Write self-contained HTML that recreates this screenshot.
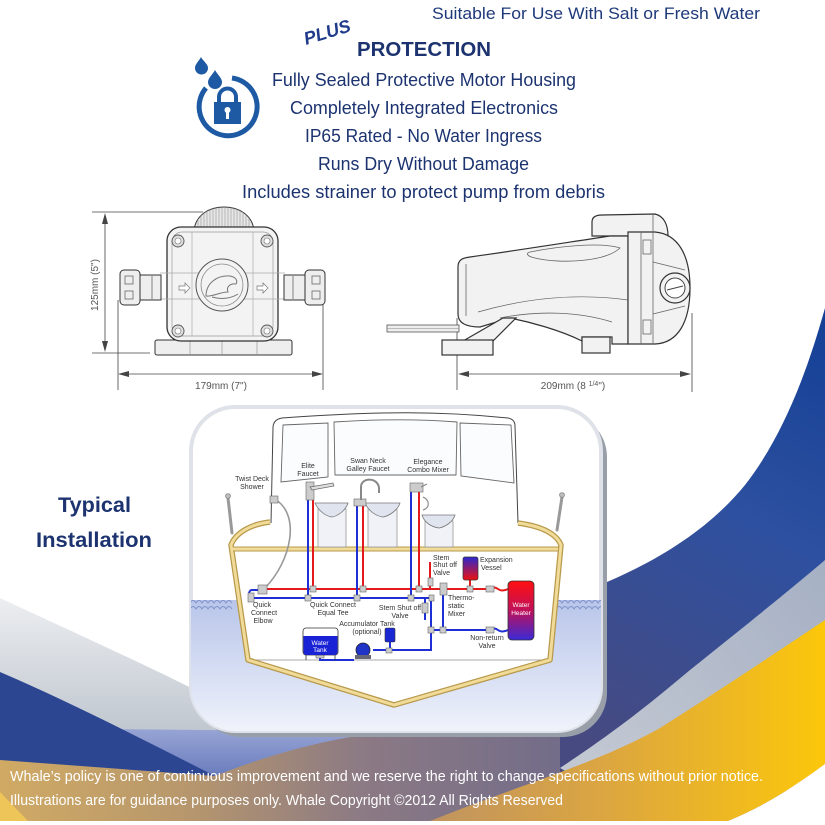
<!DOCTYPE html>
<html><head><meta charset="utf-8"><style>
html,body{margin:0;padding:0;background:#fff;}
svg{display:block;}
text{font-family:"Liberation Sans",sans-serif;}
</style></head><body>
<svg width="825" height="825" viewBox="0 0 825 825" xmlns="http://www.w3.org/2000/svg">
<defs>
 <linearGradient id="gGray" x1="0" y1="0" x2="0" y2="1">
  <stop offset="0" stop-color="#eceef1"/><stop offset="1" stop-color="#bcc3cc"/>
 </linearGradient>
 <linearGradient id="gPeri" x1="0" y1="0" x2="0" y2="1">
  <stop offset="0" stop-color="#98a5d5"/><stop offset="1" stop-color="#5c70b6"/>
 </linearGradient>
 <linearGradient id="gBlue" x1="825" y1="305" x2="590" y2="750" gradientUnits="userSpaceOnUse">
  <stop offset="0" stop-color="#123f95"/><stop offset="0.45" stop-color="#2e50a0"/><stop offset="1" stop-color="#474a80"/>
 </linearGradient>
 <linearGradient id="gSilver" x1="825" y1="560" x2="590" y2="760" gradientUnits="userSpaceOnUse">
  <stop offset="0" stop-color="#a6b0c4"/><stop offset="1" stop-color="#c2c8d2"/>
 </linearGradient>
 <linearGradient id="gYellow" x1="430" y1="0" x2="825" y2="0" gradientUnits="userSpaceOnUse">
  <stop offset="0" stop-color="#c09460"/><stop offset="0.45" stop-color="#dca640"/><stop offset="1" stop-color="#fcc70a"/>
 </linearGradient>
 <linearGradient id="gBottom" x1="0" y1="0" x2="600" y2="0" gradientUnits="userSpaceOnUse">
  <stop offset="0" stop-color="#d0aa64"/><stop offset="0.3" stop-color="#b8986c"/><stop offset="0.6" stop-color="#8c7a84"/><stop offset="1" stop-color="#6e6a8a"/>
 </linearGradient>
 <linearGradient id="gWater" x1="0" y1="0" x2="0" y2="1">
  <stop offset="0" stop-color="#b9c6ea"/><stop offset="0.6" stop-color="#dbe2f5"/><stop offset="1" stop-color="#f4f6fc"/>
 </linearGradient>
 <linearGradient id="gHeater" x1="0" y1="0" x2="0" y2="1">
  <stop offset="0" stop-color="#ff1010"/><stop offset="0.5" stop-color="#c0105a"/><stop offset="1" stop-color="#3a2ad6"/>
 </linearGradient>
 <linearGradient id="gVessel" x1="0" y1="0" x2="0" y2="1">
  <stop offset="0" stop-color="#2a28d0"/><stop offset="1" stop-color="#ee1010"/>
 </linearGradient>
 <clipPath id="boxClip"><rect x="191" y="407" width="410" height="324" rx="44"/></clipPath>
 <clipPath id="domeClip"><path d="M194,230 C196,215 209,207 224,207 C239,207 252,215 254,230 Z"/></clipPath>
</defs>

<rect width="825" height="825" fill="#fff"/>

<!-- background swooshes -->
<path d="M0,598 C60,626 140,662 195,690 L250,745 L0,745 Z" fill="url(#gGray)"/>
<path d="M0,728 L400,732 L400,790 L0,790 Z" fill="url(#gPeri)"/>
<path d="M0,672 C70,702 140,738 215,776 L0,776 Z" fill="#2d4692"/>
<path d="M0,760 L215,776 C260,758 320,740 372,734 L825,734 L825,821 L0,821 Z" fill="url(#gBottom)"/>
<path d="M0,792 L28,821 L0,821 Z" fill="#eec558"/>
<path d="M825,308 C805,380 780,440 745,485 C710,528 660,560 600,585 L560,734 L560,775 L825,775 Z" fill="url(#gBlue)"/>
<path d="M825,560 C790,590 740,630 690,670 C660,695 625,725 560,768 L600,790 L825,790 Z" fill="url(#gSilver)"/>
<path d="M825,620 C780,650 720,690 660,728 C600,762 520,785 430,821 L728,821 C760,808 790,790 825,764 Z" fill="url(#gYellow)"/>
<path d="M825,764 C790,790 760,808 728,821 L825,821 Z" fill="#fff"/>
<rect x="0" y="821" width="825" height="4" fill="#fff"/>

<!-- top text -->
<text x="432" y="19" font-size="17" fill="#1f3a7a" textLength="328" lengthAdjust="spacingAndGlyphs">Suitable For Use With Salt or Fresh Water</text>
<text x="0" y="0" font-size="18" font-weight="bold" font-style="italic" fill="#1f3a8a" transform="translate(306,45) rotate(-17)" textLength="48" lengthAdjust="spacingAndGlyphs">PLUS</text>
<text x="357" y="56" font-size="20" font-weight="bold" fill="#1c3370" textLength="134" lengthAdjust="spacingAndGlyphs">PROTECTION</text>
<g font-size="18" fill="#1c3370">
<text x="272" y="86" textLength="304" lengthAdjust="spacingAndGlyphs">Fully Sealed Protective Motor Housing</text>
<text x="290" y="114" textLength="268" lengthAdjust="spacingAndGlyphs">Completely Integrated Electronics</text>
<text x="305" y="142" textLength="237" lengthAdjust="spacingAndGlyphs">IP65 Rated - No Water Ingress</text>
<text x="318" y="170" textLength="211" lengthAdjust="spacingAndGlyphs">Runs Dry Without Damage</text>
<text x="242" y="198" textLength="363" lengthAdjust="spacingAndGlyphs">Includes strainer to protect pump from debris</text>
</g>

<!-- lock icon -->
<g fill="#1d5aa3">
 <path d="M201,57 C203,61 208,64 208,68 A6.5,6.5 0 0 1 195,68 C195,64 199,61 201,57 Z"/>
 <path d="M215,70 C217,74 222,78 222,82 A7,7 0 0 1 208,82 C208,78 213,74 215,70 Z"/>
 <path d="M214,124 h27 v-22 h-27 Z"/>
</g>
<path d="M232,78 A29,29 0 1 1 206,88" fill="none" stroke="#1d5aa3" stroke-width="5"/>
<path d="M219,103 v-6 a8.5,8.5 0 0 1 17,0 v6" fill="none" stroke="#1d5aa3" stroke-width="4"/>
<circle cx="227.5" cy="110" r="3" fill="#fff"/>
<rect x="226" y="111" width="3" height="8" fill="#fff"/>

<!-- front pump view -->
<g stroke="#444" stroke-width="0.8" fill="none">
 <line x1="92" y1="212" x2="203" y2="212"/>
 <line x1="92" y1="353" x2="150" y2="353"/>
 <line x1="105" y1="220" x2="105" y2="345"/>
 <line x1="118" y1="300" x2="118" y2="390"/>
 <line x1="323" y1="303" x2="323" y2="390"/>
 <line x1="125" y1="374" x2="316" y2="374"/>
</g>
<g fill="#444">
 <polygon points="105,213 102,224 108,224"/>
 <polygon points="105,352 102,341 108,341"/>
 <polygon points="118,374 129,371 129,377"/>
 <polygon points="323,374 312,371 312,377"/>
</g>
<text x="0" y="0" font-size="10" fill="#555" text-anchor="middle" transform="translate(98,285) rotate(-90)">125mm (5")</text>
<text x="221" y="389" font-size="10" fill="#555" text-anchor="middle">179mm (7")</text>

<path d="M194,230 C196,215 209,207 224,207 C239,207 252,215 254,230 Z" fill="#e6e6e6" stroke="#333" stroke-width="1"/>
<g clip-path="url(#domeClip)" stroke="#999" stroke-width="0.6">
 <path d="M198,205v30M201,205v30M204,205v30M207,205v30M210,205v30M213,205v30M216,205v30M219,205v30M222,205v30M225,205v30M228,205v30M231,205v30M234,205v30M237,205v30M240,205v30M243,205v30M246,205v30M249,205v30"/>
</g>
<rect x="155" y="340" width="137" height="15" rx="2" fill="#eee" stroke="#333" stroke-width="1"/>
<path d="M190,341v13M222,341v13M257,341v13" stroke="#999" stroke-width="0.7"/>
<rect x="167" y="227" width="111" height="114" rx="14" fill="#f3f3f3" stroke="#333" stroke-width="1.3"/>
<rect x="172" y="232" width="101" height="104" rx="10" fill="none" stroke="#999" stroke-width="0.7"/>
<path d="M192,232v104M253,232v104" stroke="#aaa" stroke-width="0.7"/>
<path d="M160,273h125M160,299h125" stroke="#aaa" stroke-width="0.7"/>
<g fill="#ddd" stroke="#555" stroke-width="0.9">
 <circle cx="178" cy="241" r="6"/><circle cx="267" cy="241" r="6"/>
 <circle cx="178" cy="331" r="6"/><circle cx="267" cy="331" r="6"/>
</g>
<g fill="#fff" stroke="#777" stroke-width="0.6">
 <circle cx="178" cy="241" r="3"/><circle cx="267" cy="241" r="3"/>
 <circle cx="178" cy="331" r="3"/><circle cx="267" cy="331" r="3"/>
</g>
<circle cx="222" cy="285" r="26" fill="#f3f3f3" stroke="#555" stroke-width="1"/>
<circle cx="222" cy="285" r="21" fill="none" stroke="#888" stroke-width="0.8"/>
<path d="M206,296 C206,284 216,275 230,276 C236,277 238,281 236,284 C230,283 226,287 228,292 C220,292 212,297 206,296 Z M212,297 C222,300 232,298 238,294" fill="none" stroke="#777" stroke-width="1"/>
<path d="M179,286h6v-3l5,5l-5,5v-3h-6Z M257,286h6v-3l5,5l-5,5v-3h-6Z" fill="#fff" stroke="#777" stroke-width="0.7"/>
<g fill="#eee" stroke="#333" stroke-width="1">
 <rect x="120" y="270" width="20" height="35" rx="4"/>
 <rect x="140" y="275" width="21" height="25"/>
 <rect x="305" y="270" width="20" height="35" rx="4"/>
 <rect x="284" y="275" width="21" height="25"/>
</g>
<g fill="none" stroke="#666" stroke-width="0.8">
 <rect x="125" y="276" width="8" height="8"/><rect x="125" y="291" width="8" height="8"/>
 <rect x="312" y="276" width="8" height="8"/><rect x="312" y="291" width="8" height="8"/>
 <path d="M152,276v23M293,276v23"/>
</g>

<!-- side pump view -->
<g stroke="#444" stroke-width="0.8" fill="none">
 <line x1="457" y1="318" x2="457" y2="390"/>
 <line x1="692" y1="313" x2="692" y2="392"/>
 <line x1="465" y1="374" x2="684" y2="374"/>
</g>
<g fill="#444">
 <polygon points="458,374 469,371 469,377"/>
 <polygon points="691,374 680,371 680,377"/>
</g>
<text x="573" y="389" font-size="10" fill="#555" text-anchor="middle">209mm (8 <tspan font-size="7" dy="-3">1/4</tspan><tspan dy="3">")</tspan></text>
<rect x="387" y="325" width="72" height="7" fill="#eee" stroke="#555" stroke-width="0.8"/>
<line x1="387" y1="328.5" x2="459" y2="328.5" stroke="#888" stroke-width="0.6"/>
<g fill="#f2f2f2" stroke="#333" stroke-width="1.2">
 <path d="M592,236 L592,222 C592,217 596,215 602,215 L655,214 C664,216 668,225 668,236 Z"/>
 <path d="M458,267 C458,260 462,258 470,257 C520,250 570,242 610,236 L628,236 L628,344 L612,344 L612,337 L582,337 L582,341 C560,330 530,322 510,318 L480,327 C466,327 458,323 458,314 Z"/>
 <path d="M463,341 L503,318 L516,318 L493,341 Z"/>
 <rect x="442" y="340" width="51" height="15"/>
 <rect x="582" y="337" width="28" height="16"/>
 <path d="M628,232 L655,232 C678,234 690,255 690,288 C690,322 678,343 655,344 L628,344 Z"/>
</g>
<g fill="none" stroke="#666" stroke-width="0.8">
 <path d="M653,214v130M641,232v112"/>
 <path d="M466,264v52"/>
 <path d="M530,252 C560,246 600,242 620,248 C605,262 560,264 535,258 C526,256 526,253 530,252 Z"/>
 <path d="M478,312 C520,300 570,292 628,300"/>
 <path d="M500,318 C540,310 580,312 612,322"/>
 <rect x="643" y="240" width="8" height="14"/><rect x="643" y="320" width="8" height="14"/>
 <path d="M653,262 L685,270 M653,314 L685,306"/>
</g>
<circle cx="675" cy="288" r="15" fill="#f2f2f2" stroke="#333" stroke-width="1.2"/>
<circle cx="675" cy="288" r="10" fill="#fff" stroke="#444" stroke-width="1"/>
<line x1="667" y1="290" x2="683" y2="286" stroke="#444" stroke-width="1"/>

<!-- Typical Installation -->
<text x="58" y="512" font-size="21" font-weight="bold" fill="#1c3370" textLength="73" lengthAdjust="spacingAndGlyphs">Typical</text>
<text x="36" y="547" font-size="21" font-weight="bold" fill="#1c3370" textLength="116" lengthAdjust="spacingAndGlyphs">Installation</text>

<!-- installation box -->
<rect x="197" y="413" width="410" height="324" rx="44" fill="#999fa9"/>
<rect x="191" y="407" width="410" height="324" rx="44" fill="#fff" stroke="#dfe2e8" stroke-width="4"/>
<g clip-path="url(#boxClip)">
 <rect x="185" y="600" width="430" height="140" fill="url(#gWater)"/>
 <path d="M190,603 q3,-5 6,0 q3,-5 6,0 q3,-5 6,0 q3,-5 6,0 q3,-5 6,0 q3,-5 6,0 q3,-5 6,0 M190,609 q3,-5 6,0 q3,-5 6,0 q3,-5 6,0 q3,-5 6,0 q3,-5 6,0 q3,-5 6,0 q3,-5 6,0" fill="none" stroke="#8192cc" stroke-width="0.9"/>
 <path d="M556,603 q3,-5 6,0 q3,-5 6,0 q3,-5 6,0 q3,-5 6,0 q3,-5 6,0 q3,-5 6,0 q3,-5 6,0 q3,-5 6,0 M556,609 q3,-5 6,0 q3,-5 6,0 q3,-5 6,0 q3,-5 6,0 q3,-5 6,0 q3,-5 6,0 q3,-5 6,0 q3,-5 6,0" fill="none" stroke="#8192cc" stroke-width="0.9"/>
</g>

<!-- cabin -->
<path d="M271,523 L273,428 C273,422 276,419 282,418 C380,411 440,411 508,418 C513,419 515,422 515,426 L518,523" fill="#fff" stroke="#444" stroke-width="1"/>
<g fill="#fbfcfe" stroke="#666" stroke-width="0.9">
 <path d="M283,425 L328,423 L328,477 L281,482 Z"/>
 <path d="M334,422 C380,419 420,419 457,422 L456,475 L335,475 Z"/>
 <path d="M460,423 L511,425 L514,483 L461,476 Z"/>
</g>

<!-- hull -->
<path d="M232,545 L249,660 L394,704 L549,660 L560,545 Z" fill="#fff"/>
<line x1="250" y1="660" x2="548" y2="660" stroke="#aaa" stroke-width="1"/>
<g fill="none" stroke-linejoin="round">
 <path d="M270,522 C252,524 236,532 231,545 L248,660 L394,705 L550,660 L561,545 C556,533 540,526 518,523" stroke="#b8994c" stroke-width="5.5"/>
 <path d="M270,522 C252,524 236,532 231,545 L248,660 L394,705 L550,660 L561,545 C556,533 540,526 518,523" stroke="#f0dc98" stroke-width="3"/>
 <line x1="233" y1="549" x2="558" y2="549" stroke="#b8994c" stroke-width="5"/>
 <line x1="233" y1="549" x2="558" y2="549" stroke="#f0dc98" stroke-width="3"/>
</g>

<!-- poles -->
<g stroke="#999" stroke-width="3" stroke-linecap="round">
 <line x1="228" y1="498" x2="232" y2="533"/>
 <line x1="562" y1="497" x2="557" y2="530"/>
</g>
<circle cx="228" cy="496" r="2.5" fill="#bbb" stroke="#777" stroke-width="0.6"/>
<circle cx="562" cy="495" r="2.5" fill="#bbb" stroke="#777" stroke-width="0.6"/>

<!-- shower hose -->
<path d="M276,500 C300,515 292,560 265,588" fill="none" stroke="#999" stroke-width="1.6"/>
<rect x="270" y="496" width="8" height="7" fill="#ccc" stroke="#666" stroke-width="0.6"/>

<!-- sinks -->
<g fill="#f0f2f7" stroke="#999" stroke-width="0.8">
 <rect x="318" y="509" width="28" height="38"/>
 <rect x="368" y="509" width="29" height="38"/>
 <rect x="425" y="521" width="28" height="26"/>
</g>
<g fill="#dfe4ee" stroke="#777" stroke-width="0.8">
 <path d="M315,503 L348,503 C346,510 338,516 332,517 C325,516 318,510 315,503 Z"/>
 <path d="M365,503 L400,503 C398,510 389,516 383,517 C375,516 368,510 365,503 Z"/>
 <path d="M422,515 L455,515 C453,522 445,527 439,528 C431,527 424,522 422,515 Z"/>
</g>

<!-- pipes -->
<g fill="none" stroke-width="2">
 <path d="M263,589 L490,589 q4,-3 8,0 q4,3 10,0" stroke="#e4191b"/>
 <path d="M313,500 V589 M363,506 V589 M419,492 V589 M430,562 V589 M470,580 V589" stroke="#e4191b"/>
 <path d="M252,598 H431 V650 H373 M308,500 V598 M357,506 V598 M411,492 V598 M425,598 V620 M443,589 V630 M431,630 H490 q4,-3 8,0 q4,3 10,0 M390,642 V650 M320,655 V660 H354" stroke="#1f2fd6"/>
 <path d="M252,598 C248,598 248,590 252,590 L262,590" stroke="#1f2fd6"/>
</g>
<!-- fittings -->
<g fill="#ccc" stroke="#666" stroke-width="0.6">
 <rect x="305" y="595" width="6" height="6"/><rect x="310" y="586" width="6" height="6"/>
 <rect x="354" y="595" width="6" height="6"/><rect x="360" y="586" width="6" height="6"/>
 <rect x="408" y="595" width="6" height="6"/><rect x="416" y="586" width="6" height="6"/>
 <rect x="428" y="578" width="5" height="8"/><rect x="422" y="603" width="6" height="10"/>
 <rect x="440" y="583" width="7" height="12"/><rect x="428" y="627" width="6" height="6"/>
 <rect x="440" y="627" width="6" height="6"/><rect x="467" y="586" width="6" height="6"/>
 <rect x="486" y="627" width="8" height="6"/><rect x="486" y="586" width="8" height="6"/>
 <rect x="258" y="585" width="9" height="9"/><rect x="248" y="593" width="6" height="9"/>
 <rect x="429" y="595" width="5" height="6"/><rect x="386" y="648" width="6" height="5"/>
 <rect x="316" y="650" width="8" height="8"/>
 <rect x="306" y="482" width="8" height="18"/><rect x="354" y="499" width="12" height="7"/><rect x="410" y="483" width="13" height="9"/>
</g>
<!-- faucets -->
<path d="M310,487 L333,483 L334,486 L312,490 Z" fill="#ddd" stroke="#666" stroke-width="0.7"/>
<path d="M361,500 L361,487 C361,477 378,477 379,488 L379,493" fill="none" stroke="#888" stroke-width="2"/>
<path d="M421,487 L427,484 M423,497 C430,500 430,508 423,510" fill="none" stroke="#888" stroke-width="1.2"/>

<!-- tanks -->
<path d="M465,557 h11 a2,2 0 0 1 2,2 v19 a2,2 0 0 1 -2,2 h-11 a2,2 0 0 1 -2,-2 v-19 a2,2 0 0 1 2,-2 Z" fill="url(#gVessel)" stroke="#333" stroke-width="0.7"/>
<rect x="508" y="581" width="26" height="59" rx="4" fill="url(#gHeater)" stroke="#333" stroke-width="0.8"/>
<rect x="303" y="628" width="35" height="27" rx="3" fill="#fff" stroke="#333" stroke-width="0.8"/>
<path d="M303.5,636 H337.5 V652 a3,3 0 0 1 -3,3 h-28 a3,3 0 0 1 -3,-3 Z" fill="#1a22d6"/>
<path d="M306,655v5M335,655v5" stroke="#333" stroke-width="0.8"/>
<rect x="385" y="628" width="10" height="14" rx="1.5" fill="#1a28d4" stroke="#333" stroke-width="0.6"/>
<circle cx="363" cy="650" r="7" fill="#2035c8" stroke="#223" stroke-width="0.8"/>
<rect x="355" y="655" width="16" height="4" fill="#667" />

<!-- labels -->
<g font-size="7" fill="#333" text-anchor="middle">
 <text x="252" y="481">Twist Deck</text><text x="252" y="489">Shower</text>
 <text x="308" y="468">Elite</text><text x="308" y="476">Faucet</text>
 <text x="368" y="463">Swan Neck</text><text x="368" y="471">Galley Faucet</text>
 <text x="428" y="464">Elegance</text><text x="428" y="472">Combo Mixer</text>
 <text x="262" y="607">Quick</text><text x="264" y="615">Connect</text><text x="263" y="623">Elbow</text>
 <text x="333" y="607">Quick Connect</text><text x="333" y="615">Equal Tee</text>
 <text x="400" y="610">Stem Shut off</text><text x="400" y="618">Valve</text>
 <text x="367" y="626">Accumulator Tank</text><text x="367" y="634">(optional)</text>
 <text x="487" y="640">Non-return</text><text x="487" y="648">Valve</text>
</g>
<g font-size="7" fill="#333">
 <text x="433" y="560">Stem</text><text x="433" y="567">Shut off</text><text x="433" y="575">Valve</text>
 <text x="480" y="562">Expansion</text><text x="481" y="570">Vessel</text>
 <text x="448" y="600">Thermo-</text><text x="448" y="608">static</text><text x="448" y="616">Mixer</text>
</g>
<g font-size="6.5" fill="#fff" text-anchor="middle">
 <text x="521" y="607">Water</text><text x="521" y="615">Heater</text>
 <text x="320" y="645">Water</text><text x="320" y="652">Tank</text>
</g>

<!-- footer text -->
<g font-size="14.5" fill="#fff">
<text x="10" y="781" textLength="753" lengthAdjust="spacingAndGlyphs">Whale’s policy is one of continuous improvement and we reserve the right to change specifications without prior notice.</text>
<text x="10" y="805" textLength="553" lengthAdjust="spacingAndGlyphs">Illustrations are for guidance purposes only. Whale Copyright ©2012 All Rights Reserved</text>
</g>
</svg>
</body></html>
